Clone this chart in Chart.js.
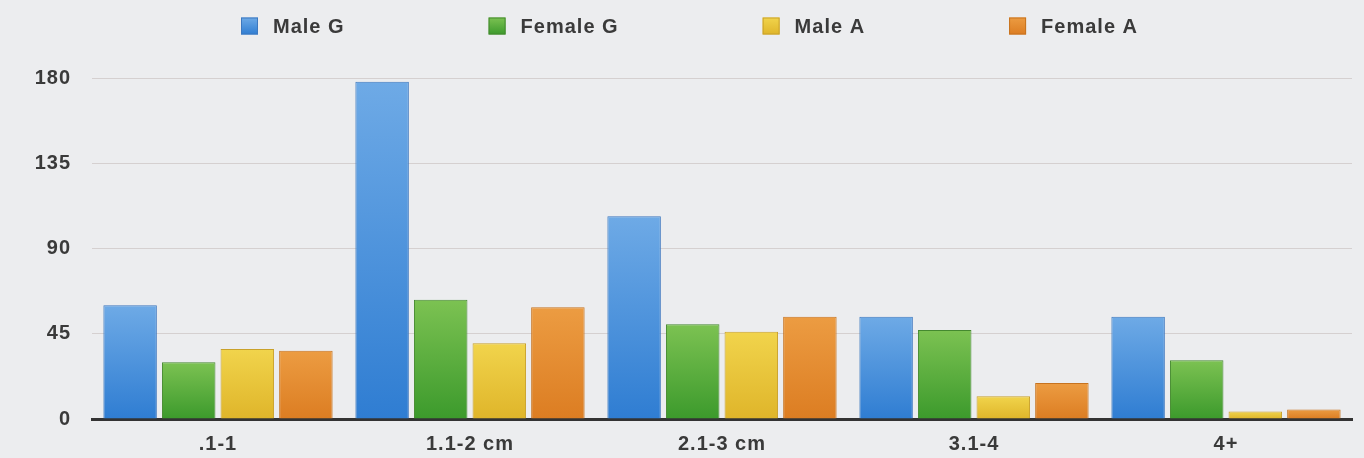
<!DOCTYPE html>
<html>
<head>
<meta charset="utf-8">
<title>Bar chart – size ranges</title>
<script src="https://cdn.jsdelivr.net/npm/chart.js@4.4.1/dist/chart.umd.min.js"></script>
<style>
  html, body { margin: 0; padding: 0; background: #ecedef; }
  #wrap { width: 1364px; height: 458px; }
</style>
</head>
<body>
<div id="wrap"><canvas id="chart" width="1364" height="458"></canvas></div>
<script>
// Size classes along the x axis
const categories = ['.1-1', '1.1-2 cm', '2.1-3 cm', '3.1-4', '4+'];

// Counts per series
const maleG   = [60, 178, 107, 54, 54];
const femaleG = [30, 63, 50, 47, 31];
const maleA   = [37, 40, 46, 12, 4];
const femaleA = [36, 59, 54, 19, 5];

// Series names
const seriesNames = ['Male G', 'Female G', 'Male A', 'Female A'];

// Value axis ticks
const yTicks = [0, 45, 90, 135, 180];

// Bar colours: [top of gradient, bottom of gradient, outline]
const palette = [
  ['#6eaae6', '#2f7dd2', '#3d78bf'],
  ['#7cc252', '#3c9a2c', '#44892f'],
  ['#f1d44c', '#dfb52a', '#c9a12a'],
  ['#ec9c42', '#dc7d22', '#c7731f']
];

const FONT = { family: '"Liberation Sans", Arial, Helvetica, sans-serif', size: 20, weight: 'bold' };
const TEXT_COLOR = '#3a3a3a';
const SPACING = '1px';

// Vertical gradient running over the height of each individual bar
function barFill(top, bottom) {
  return (ctx) => {
    const chart = ctx.chart;
    const y = chart.scales.y;
    if (!chart.chartArea || !y || ctx.raw == null) return bottom;
    const yTop = y.getPixelForValue(ctx.raw);
    const yBase = y.getPixelForValue(0);
    if (!isFinite(yTop) || !isFinite(yBase) || yTop === yBase) return bottom;
    const g = chart.ctx.createLinearGradient(0, yTop, 0, yBase);
    g.addColorStop(0, top);
    g.addColorStop(1, bottom);
    return g;
  };
}

const seriesValues = [maleG, femaleG, maleA, femaleA];
const datasets = seriesValues.map((values, i) => ({
  label: seriesNames[i],
  data: values,
  backgroundColor: barFill(palette[i][0], palette[i][1]),
  borderColor: palette[i][2],
  borderWidth: 1,
  borderSkipped: 'bottom',
  categoryPercentage: 0.93,
  barPercentage: 0.913
}));

// Slightly spread lettering for all canvas text
const letterSpacing = {
  id: 'letterSpacing',
  beforeUpdate(chart) { chart.ctx.letterSpacing = SPACING; },
  beforeLayout(chart) { chart.ctx.letterSpacing = SPACING; },
  beforeDraw(chart) { chart.ctx.letterSpacing = SPACING; }
};

// Page background behind the plot
const background = {
  id: 'background',
  beforeDraw(chart) {
    const c = chart.ctx;
    c.save();
    c.fillStyle = '#ecedef';
    c.fillRect(0, 0, chart.width, chart.height);
    c.restore();
  }
};

// Legend row across the top: square swatch, label, wide gap between entries
const topLegend = {
  id: 'topLegend',
  afterDraw(chart, args, opts) {
    const c = chart.ctx;
    c.save();
    c.font = `${FONT.weight} ${FONT.size}px ${FONT.family}`;
    c.letterSpacing = SPACING;
    c.textBaseline = 'middle';
    c.textAlign = 'left';
    let x = opts.left;
    const yMid = opts.y;
    const box = opts.box;
    chart.data.datasets.forEach((ds, i) => {
      const g = c.createLinearGradient(0, yMid - box / 2, 0, yMid + box / 2);
      g.addColorStop(0, palette[i][0]);
      g.addColorStop(1, palette[i][1]);
      c.fillStyle = g;
      c.fillRect(x, yMid - box / 2, box, box);
      c.strokeStyle = palette[i][2];
      c.lineWidth = 1;
      c.strokeRect(x + 0.5, yMid - box / 2 + 0.5, box - 1, box - 1);
      const tx = x + box + opts.textGap;
      c.fillStyle = TEXT_COLOR;
      c.fillText(ds.label, tx, yMid + 1);
      x = tx + c.measureText(ds.label).width + opts.itemGap;
    });
    c.restore();
  }
};

new Chart(document.getElementById('chart'), {
  type: 'bar',
  data: { labels: categories, datasets },
  plugins: [letterSpacing, background, topLegend],
  options: {
    responsive: false,
    animation: false,
    devicePixelRatio: 1,
    layout: { padding: { top: 78, left: 0, right: 12, bottom: 0 } },
    plugins: {
      legend: { display: false },
      tooltip: { enabled: false },
      topLegend: { left: 241, y: 26, box: 17, textGap: 15, itemGap: 144 }
    },
    scales: {
      x: {
        grid: { display: false, drawTicks: false },
        border: { display: true, color: '#333333', width: 3 },
        ticks: { color: TEXT_COLOR, font: FONT, padding: 13, maxRotation: 0 },
        afterFit(scale) { scale.height = 39; }
      },
      y: {
        min: yTicks[0],
        max: yTicks[yTicks.length - 1],
        afterBuildTicks(scale) { scale.ticks = yTicks.map(v => ({ value: v })); },
        grid: { color: 'rgba(205,198,198,0.75)', lineWidth: 1, drawTicks: false },
        border: { display: false },
        ticks: { color: TEXT_COLOR, font: FONT, padding: 21 },
        afterFit(scale) { scale.width = 92; }
      }
    }
  }
});
</script>
</body>
</html>
